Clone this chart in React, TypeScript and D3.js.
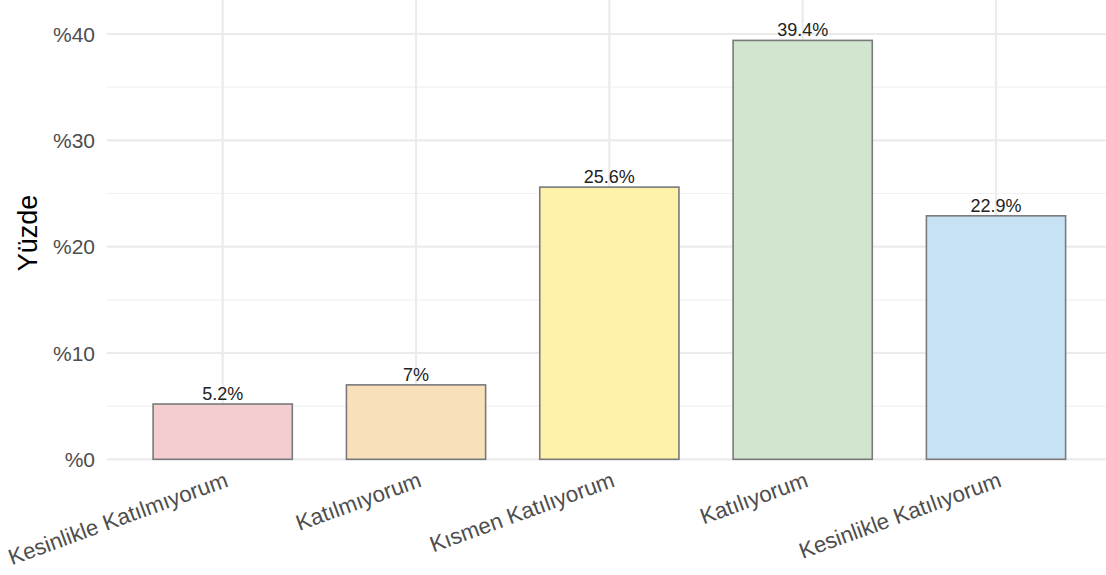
import * as d3 from "d3";

const categories = [
  "Kesinlikle Katılmıyorum",
  "Katılmıyorum",
  "Kısmen Katılıyorum",
  "Katılıyorum",
  "Kesinlikle Katılıyorum",
];
const percents = [5.2, 7, 25.6, 39.4, 22.9];
const barLabels = ["5.2%", "7%", "25.6%", "39.4%", "22.9%"];
const barColors = ["#F3CDCF", "#F8E1BA", "#FEF2A8", "#D1E5CF", "#C6E2F4"];
const yTicks = [0, 10, 20, 30, 40];
const yMinorTicks = [5, 15, 25, 35];

const width = 1106;
const height = 575;
const plot = { left: 106.7, right: 1112, top: 0, bottom: 459.3 };
const yMax = 43.2;
const font = "'Liberation Sans', Arial, Helvetica, sans-serif";

export default function App() {
  const x = d3
    .scalePoint<string>()
    .domain(categories)
    .range([plot.left, plot.right])
    .padding(0.6);
  const y = d3.scaleLinear().domain([0, yMax]).range([plot.bottom, plot.top]);
  const barWidth = x.step() * 0.72;

  return (
    <>
      <style>{"body{margin:0;}"}</style>
      <svg width={width} height={height} style={{ display: "block", fontFamily: font }}>
        <rect width={width} height={height} fill="#ffffff" />
        {/* minor grid */}
        {yMinorTicks.map((t) => (
          <line
            key={`m${t}`}
            x1={plot.left}
            x2={plot.right}
            y1={y(t)}
            y2={y(t)}
            stroke="#f1f1f1"
            strokeWidth={1.2}
          />
        ))}
        {/* major grid */}
        {yTicks.map((t) => (
          <line
            key={`g${t}`}
            x1={plot.left}
            x2={plot.right}
            y1={y(t)}
            y2={y(t)}
            stroke="#ebebeb"
            strokeWidth={2.2}
          />
        ))}
        {categories.map((c) => (
          <line
            key={`v${c}`}
            x1={x(c)}
            x2={x(c)}
            y1={plot.top}
            y2={plot.bottom}
            stroke="#ebebeb"
            strokeWidth={2.2}
          />
        ))}
        {/* bars */}
        {categories.map((c, i) => (
          <rect
            key={`b${c}`}
            x={(x(c) ?? 0) - barWidth / 2}
            y={y(percents[i])}
            width={barWidth}
            height={y(0) - y(percents[i])}
            fill={barColors[i]}
            stroke="#7a7a7a"
            strokeWidth={1.6}
          />
        ))}
        {categories.map((c, i) => (
          <text
            key={`l${c}`}
            x={x(c)}
            y={y(percents[i]) - 4}
            textAnchor="middle"
            fontSize={18}
            fill="#222222"
          >
            {barLabels[i]}
          </text>
        ))}
        {/* y axis labels */}
        {yTicks.map((t) => (
          <text
            key={`yt${t}`}
            x={95}
            y={y(t)}
            dy="0.36em"
            textAnchor="end"
            fontSize={21}
            fill="#4d4d4d"
          >
            {`%${t}`}
          </text>
        ))}
        <text
          transform={`translate(37, 233) rotate(-90)`}
          textAnchor="middle"
          fontSize={27}
          fill="#000000"
        >
          Yüzde
        </text>
        {/* x axis labels */}
        {categories.map((c) => (
          <text
            key={`xt${c}`}
            transform={`translate(${(x(c) ?? 0) + 1}, ${plot.bottom + 11}) rotate(-20)`}
            dy="0.75em"
            textAnchor="end"
            fontSize={22.3}
            fill="#4d4d4d"
          >
            {c}
          </text>
        ))}
      </svg>
    </>
  );
}
